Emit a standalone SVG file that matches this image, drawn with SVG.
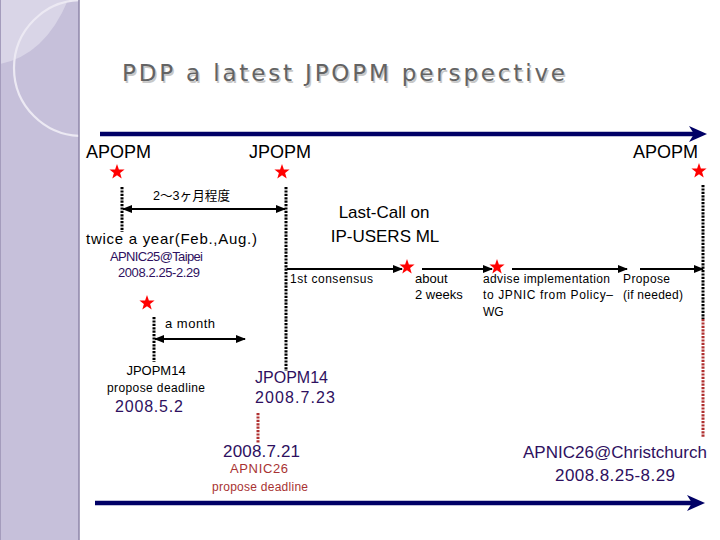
<svg xmlns="http://www.w3.org/2000/svg" width="720" height="540" viewBox="0 0 720 540">
<style>
.s{font-family:"Liberation Sans",Arial,sans-serif}
.j{font-family:"Liberation Sans","Noto Sans CJK JP",sans-serif}
.t{font-family:"DejaVu Sans","Liberation Sans",sans-serif}
.pur{fill:#2e1060}
.red{fill:#a83232}
.dot{stroke:#000;stroke-width:3;stroke-dasharray:2.2 1.2;fill:none}
.rdot{stroke:#b03030;stroke-width:3;stroke-dasharray:2.2 1.2;fill:none}
.thin{stroke:#000;stroke-width:2;fill:none}
.navy{stroke:#000066;stroke-width:4.5;fill:none}
</style>
<defs>
<marker id="ah" viewBox="0 0 10 8" refX="9" refY="4" markerWidth="5" markerHeight="4" orient="auto-start-reverse" markerUnits="strokeWidth">
<path d="M0,0 L10,4 L0,8 Z" fill="#000"/>
</marker>
<path id="star" d="M0,-8 L1.9,-2.6 L7.6,-2.5 L3.1,1 L4.7,6.5 L0,3.2 L-4.7,6.5 L-3.1,1 L-7.6,-2.5 L-1.9,-2.6 Z" fill="#ff0000"/>
<clipPath id="sbclip"><rect x="0" y="0" width="79" height="540"/></clipPath>
</defs>
<rect width="720" height="540" fill="#fff"/>
<g id="sidebar">
<rect x="0" y="0" width="79" height="540" fill="#c6c0da"/>
<g clip-path="url(#sbclip)">
<path d="M0,0 L68,0 Q45,55 0,64 Z" fill="#d9d5e7"/>
<circle cx="82" cy="68" r="68" fill="none" stroke="#ecE9f3" stroke-width="2.2"/>
</g>
<line x1="79" y1="0" x2="79" y2="540" stroke="#8e86a8" stroke-width="1.5"/>
<line x1="0.5" y1="0" x2="0.5" y2="540" stroke="#a49cbc" stroke-width="1"/>
</g>
<g id="title">
<text x="123.5" y="82.5" class="t" font-size="23" fill="#c8c8c8" textLength="443" lengthAdjust="spacing">PDP a latest JPOPM perspective</text>
<text x="122" y="81" class="t" font-size="23" fill="#636363" textLength="443" lengthAdjust="spacing">PDP a latest JPOPM perspective</text>
</g>
<g id="connectors">
<line class="navy" x1="100" y1="134" x2="694" y2="134"/>
<path d="M707,134 L689,126 L694,134 L689,142 Z" fill="#000066"/>
<line class="navy" x1="95" y1="503" x2="692" y2="503"/>
<path d="M705,503 L687,495 L692,503 L687,511 Z" fill="#000066"/>
<line class="dot" x1="122" y1="187" x2="122" y2="232"/>
<line class="dot" x1="286" y1="187" x2="286" y2="371"/>
<line class="dot" x1="703" y1="185" x2="703" y2="319"/>
<line class="rdot" x1="703" y1="319" x2="703" y2="438"/>
<line class="dot" x1="154" y1="317" x2="154" y2="362"/>
<line class="rdot" x1="258" y1="413" x2="258" y2="443"/>
<line class="thin" x1="123" y1="209" x2="285" y2="209" marker-start="url(#ah)" marker-end="url(#ah)"/>
<line class="thin" x1="155" y1="339" x2="245" y2="339" marker-start="url(#ah)" marker-end="url(#ah)"/>
<line class="thin" x1="287" y1="269" x2="402" y2="269" marker-end="url(#ah)"/>
<line class="thin" x1="422" y1="269" x2="492" y2="269" marker-end="url(#ah)"/>
<line class="thin" x1="512" y1="269" x2="627" y2="269" marker-end="url(#ah)"/>
<line class="thin" x1="640" y1="269" x2="703" y2="269" marker-end="url(#ah)"/>
</g>
<g id="stars">
<use href="#star" x="117" y="172"/>
<use href="#star" x="282" y="172"/>
<use href="#star" x="699" y="171"/>
<use href="#star" x="147" y="303"/>
<use href="#star" x="407" y="267"/>
<use href="#star" x="497" y="267"/>
</g>
<g id="apopm-left"><text x="86" y="158" class="s" font-size="18">APOPM</text></g>
<g id="jpopm"><text x="249" y="158" class="s" font-size="18">JPOPM</text></g>
<g id="apopm-right"><text x="633" y="158" class="s" font-size="18">APOPM</text></g>
<g id="span-label"><text x="153" y="200" class="j" font-size="13" textLength="77" lengthAdjust="spacingAndGlyphs">2〜3ヶ月程度</text></g>
<g id="apnic25">
<text x="86" y="244" class="s" font-size="15" textLength="171" lengthAdjust="spacing">twice a year(Feb.,Aug.)</text>
<text x="110" y="261" class="s pur" font-size="13" textLength="93" lengthAdjust="spacing">APNIC25@Taipei</text>
<text x="118" y="277" class="s pur" font-size="13" textLength="82" lengthAdjust="spacing">2008.2.25-2.29</text>
</g>
<g id="lastcall">
<text x="384" y="218" class="s" font-size="17" text-anchor="middle">Last-Call on</text>
<text x="385" y="242" class="s" font-size="17" text-anchor="middle">IP-USERS ML</text>
</g>
<g id="consensus"><text x="290" y="283" class="s" font-size="12" textLength="83" lengthAdjust="spacing">1st consensus</text></g>
<g id="about">
<text x="415" y="283" class="s" font-size="13">about</text>
<text x="415" y="299" class="s" font-size="13">2 weeks</text>
</g>
<g id="advise">
<text x="483" y="283" class="s" font-size="12" textLength="127" lengthAdjust="spacing">advise implementation</text>
<text x="483" y="299" class="s" font-size="12" textLength="130" lengthAdjust="spacing">to JPNIC from Policy–</text>
<text x="483" y="316" class="s" font-size="12">WG</text>
</g>
<g id="propose">
<text x="623" y="283" class="s" font-size="12" textLength="47" lengthAdjust="spacing">Propose</text>
<text x="623" y="299" class="s" font-size="12" textLength="60" lengthAdjust="spacing">(if needed)</text>
</g>
<g id="amonth"><text x="165" y="328" class="s" font-size="13" textLength="50" lengthAdjust="spacing">a month</text></g>
<g id="jpopm14-deadline">
<text x="156" y="375" class="s" font-size="13" text-anchor="middle">JPOPM14</text>
<text x="156" y="392" class="s" font-size="12" text-anchor="middle" textLength="98" lengthAdjust="spacing">propose deadline</text>
<text x="115" y="412" class="s pur" font-size="16" textLength="68" lengthAdjust="spacing">2008.5.2</text>
</g>
<g id="jpopm14">
<text x="255" y="383" class="s pur" font-size="16" textLength="73" lengthAdjust="spacing">JPOPM14</text>
<text x="255" y="403" class="s pur" font-size="16" textLength="80" lengthAdjust="spacing">2008.7.23</text>
</g>
<g id="apnic26-deadline">
<text x="223" y="457" class="s pur" font-size="17" textLength="77" lengthAdjust="spacing">2008.7.21</text>
<text x="259" y="473" class="s red" font-size="13" text-anchor="middle" textLength="58" lengthAdjust="spacing">APNIC26</text>
<text x="260" y="491" class="s red" font-size="12" text-anchor="middle" textLength="96" lengthAdjust="spacing">propose deadline</text>
</g>
<g id="apnic26">
<text x="615" y="458" class="s pur" font-size="17" text-anchor="middle" textLength="184" lengthAdjust="spacing">APNIC26@Christchurch</text>
<text x="615" y="481" class="s pur" font-size="17" text-anchor="middle" textLength="120" lengthAdjust="spacing">2008.8.25-8.29</text>
</g>
</svg>
